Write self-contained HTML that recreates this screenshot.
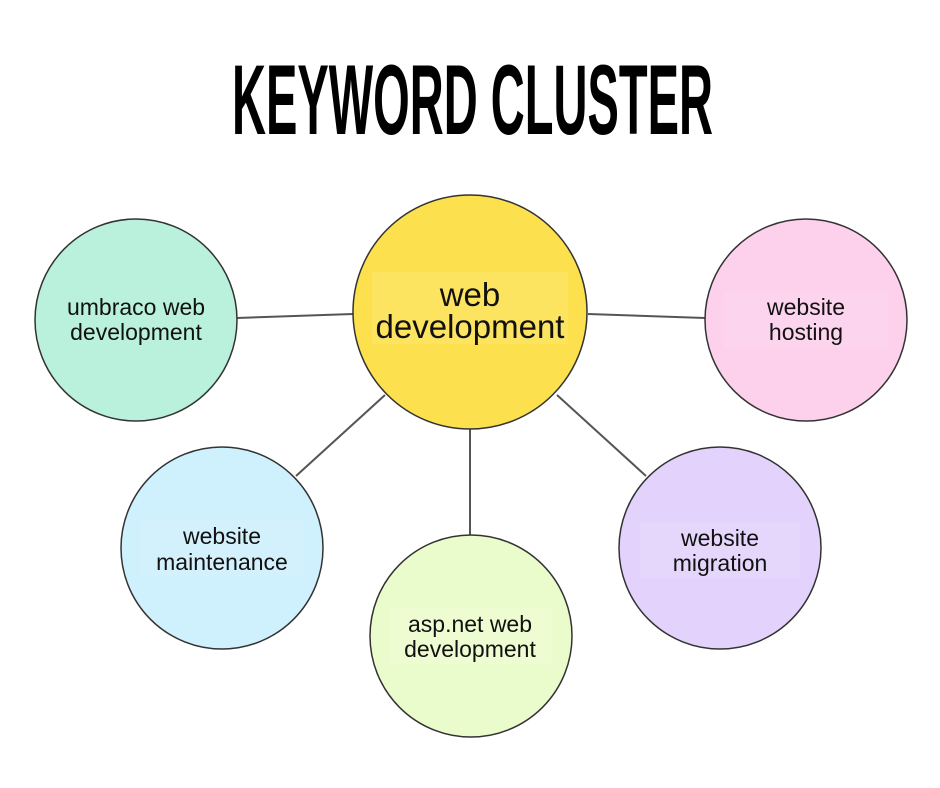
<!DOCTYPE html>
<html><head><meta charset="utf-8"><style>
html,body{margin:0;padding:0;background:#fff;}
svg{display:block;}
text{font-family:"Liberation Sans",sans-serif;fill:#111;}
</style></head><body>
<svg width="940" height="788" viewBox="0 0 940 788" xmlns="http://www.w3.org/2000/svg">
<rect width="940" height="788" fill="#fff"/>
<text x="232" y="134" font-size="99" font-weight="bold" textLength="481" lengthAdjust="spacingAndGlyphs" style="fill:#000">KEYWORD CLUSTER</text>
<g stroke="#555" stroke-width="2">
<line x1="237" y1="318" x2="353" y2="314"/>
<line x1="588" y1="314" x2="705" y2="318"/>
<line x1="385" y1="395" x2="296" y2="476"/>
<line x1="470" y1="428" x2="470" y2="535"/>
<line x1="557" y1="395" x2="646" y2="476"/>
</g>
<g stroke="#333" stroke-width="1.5">
<circle cx="470" cy="312" r="117" fill="#fce04e"/>
<circle cx="136" cy="320" r="101" fill="#b9f1dd"/>
<circle cx="806" cy="320" r="101" fill="#fdd0ec"/>
<circle cx="222" cy="548" r="101" fill="#cff0fd"/>
<circle cx="471" cy="636" r="101" fill="#ebfccc"/>
<circle cx="720" cy="548" r="101" fill="#e3d2fb"/>
</g>
<g fill="#fff" opacity="0.1">
<rect x="372" y="272" width="196" height="72"/>
<rect x="724" y="292" width="164" height="56"/>
<rect x="140" y="520" width="164" height="56"/>
<rect x="640" y="522" width="160" height="56"/>
<rect x="390" y="608" width="162" height="56"/>
</g>
<g text-anchor="middle" font-size="23">
<text x="470" y="306" font-size="33">web</text>
<text x="470" y="338" font-size="33">development</text>
<text x="136" y="315">umbraco web</text>
<text x="136" y="340">development</text>
<text x="806" y="315">website</text>
<text x="806" y="340">hosting</text>
<text x="222" y="544">website</text>
<text x="222" y="570">maintenance</text>
<text x="470" y="632">asp.net web</text>
<text x="470" y="657">development</text>
<text x="720" y="546">website</text>
<text x="720" y="571">migration</text>
</g>
</svg>
</body></html>
